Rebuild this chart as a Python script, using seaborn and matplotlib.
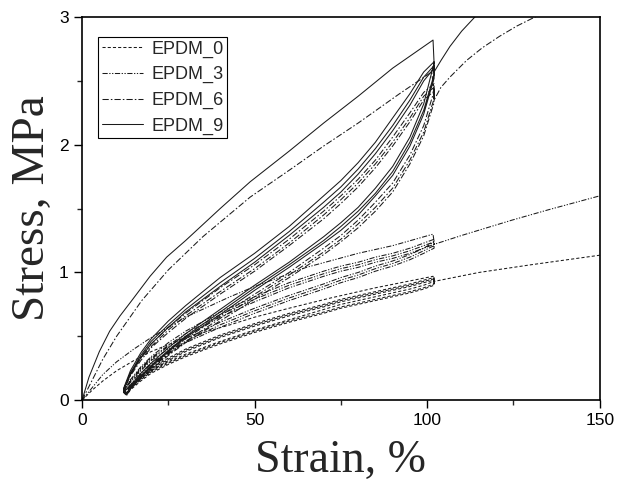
import numpy as np
import pandas as pd
import matplotlib
matplotlib.use("Agg")
import matplotlib.pyplot as plt
from matplotlib.ticker import MultipleLocator
import seaborn as sns

# ---------------- data ----------------
materials = ["EPDM_0", "EPDM_3", "EPDM_6", "EPDM_9"]

# strain grids used by the hysteresis loops (%)
grid_up = [12, 14, 17, 20, 25, 30, 40, 50, 60, 70, 75, 80, 85, 90, 95, 99, 102]
grid_down = [102, 99, 95, 90, 85, 80, 75, 70, 60, 50, 40, 30, 25, 20, 17, 14, 13]

# EPDM_0
e0_first_x = [0, 3, 6, 10, 15, 20, 30, 42.9, 50, 60, 72, 85, 101.7]
e0_first_y = [0, 0.08, 0.15, 0.23, 0.31, 0.38, 0.49, 0.59, 0.65, 0.72, 0.80, 0.88, 0.97]
e0_down1 = [0.93, 0.90, 0.87, 0.84, 0.81, 0.78, 0.75, 0.71, 0.63, 0.55, 0.46, 0.36, 0.30, 0.23, 0.17, 0.09, 0.05]
e0_up1 = [0.06, 0.12, 0.19, 0.25, 0.33, 0.40, 0.51, 0.60, 0.68, 0.75, 0.79, 0.82, 0.85, 0.88, 0.91, 0.94, 0.96]
e0_down2 = [0.91, 0.88, 0.85, 0.82, 0.79, 0.76, 0.73, 0.69, 0.62, 0.54, 0.45, 0.35, 0.29, 0.22, 0.16, 0.09, 0.05]
e0_up2 = [0.06, 0.12, 0.18, 0.24, 0.32, 0.39, 0.50, 0.59, 0.67, 0.74, 0.78, 0.81, 0.84, 0.87, 0.90, 0.93, 0.95]
e0_down3 = [0.90, 0.87, 0.84, 0.81, 0.78, 0.75, 0.72, 0.68, 0.61, 0.53, 0.44, 0.34, 0.28, 0.21, 0.15, 0.08, 0.04]
e0_up3 = [0.05, 0.11, 0.17, 0.23, 0.31, 0.38, 0.49, 0.58, 0.66, 0.73, 0.77, 0.80, 0.83, 0.86, 0.89, 0.92, 0.94]
e0_final_x = [102, 115, 130, 150]
e0_final_y = [0.93, 1.00, 1.06, 1.135]

# EPDM_3
e3_first_x = [0, 3, 6, 10, 15, 20, 30, 42.9, 50, 65, 80, 90, 101.7]
e3_first_y = [0, 0.10, 0.20, 0.30, 0.40, 0.49, 0.65, 0.81, 0.89, 1.04, 1.15, 1.21, 1.30]
e3_down1 = [1.24, 1.19, 1.14, 1.09, 1.05, 1.00, 0.96, 0.91, 0.82, 0.72, 0.61, 0.48, 0.40, 0.31, 0.23, 0.12, 0.06]
e3_up1 = [0.07, 0.16, 0.26, 0.34, 0.45, 0.54, 0.69, 0.81, 0.92, 1.01, 1.05, 1.08, 1.12, 1.15, 1.19, 1.23, 1.26]
e3_down2 = [1.21, 1.17, 1.12, 1.07, 1.03, 0.98, 0.94, 0.89, 0.80, 0.70, 0.59, 0.46, 0.38, 0.29, 0.21, 0.11, 0.05]
e3_up2 = [0.07, 0.15, 0.25, 0.33, 0.43, 0.52, 0.67, 0.79, 0.90, 0.99, 1.03, 1.06, 1.10, 1.13, 1.17, 1.21, 1.24]
e3_down3 = [1.19, 1.15, 1.10, 1.05, 1.01, 0.96, 0.92, 0.87, 0.78, 0.68, 0.57, 0.45, 0.37, 0.28, 0.20, 0.10, 0.05]
e3_up3 = [0.06, 0.14, 0.24, 0.32, 0.42, 0.50, 0.65, 0.77, 0.88, 0.97, 1.01, 1.04, 1.08, 1.11, 1.15, 1.19, 1.22]
e3_final_x = [102, 110, 124.6, 135, 150]
e3_final_y = [1.22, 1.29, 1.41, 1.49, 1.60]

# EPDM_6
e6_first_x = [0, 3, 6, 10, 17.3, 25, 35, 48.7, 60, 70, 80, 92, 101.3]
e6_first_y = [0, 0.16, 0.32, 0.50, 0.78, 1.02, 1.28, 1.59, 1.80, 1.99, 2.17, 2.40, 2.57]
e6_down1 = [2.42, 2.15, 1.92, 1.70, 1.55, 1.41, 1.29, 1.19, 1.00, 0.83, 0.66, 0.48, 0.37, 0.26, 0.19, 0.10, 0.05]
e6_up1 = [0.08, 0.21, 0.34, 0.44, 0.57, 0.68, 0.88, 1.06, 1.26, 1.48, 1.60, 1.73, 1.88, 2.06, 2.25, 2.41, 2.48]
e6_down2 = [2.36, 2.10, 1.88, 1.66, 1.51, 1.38, 1.26, 1.16, 0.98, 0.81, 0.64, 0.46, 0.36, 0.25, 0.18, 0.09, 0.05]
e6_up2 = [0.08, 0.20, 0.33, 0.42, 0.55, 0.66, 0.85, 1.03, 1.23, 1.45, 1.57, 1.70, 1.85, 2.02, 2.21, 2.38, 2.45]
e6_down3 = [2.33, 2.07, 1.85, 1.63, 1.48, 1.35, 1.24, 1.14, 0.96, 0.79, 0.62, 0.45, 0.35, 0.24, 0.17, 0.09, 0.04]
e6_up3 = [0.07, 0.19, 0.31, 0.41, 0.53, 0.64, 0.83, 1.01, 1.21, 1.42, 1.54, 1.67, 1.82, 1.99, 2.18, 2.35, 2.42]
e6_final_x = [102, 104, 106.6, 111.4, 116, 121, 126, 131.2, 135]
e6_final_y = [2.35, 2.45, 2.53, 2.66, 2.76, 2.85, 2.93, 3.00, 3.05]

# EPDM_9
e9_first_x = [0, 2, 5, 8, 11, 14.4, 19.7, 24.5, 30, 40, 48.7, 60, 70, 80, 90, 101.7]
e9_first_y = [0, 0.18, 0.38, 0.54, 0.66, 0.78, 0.97, 1.12, 1.25, 1.50, 1.71, 1.95, 2.17, 2.38, 2.60, 2.82]
e9_down1 = [2.64, 2.32, 2.06, 1.83, 1.66, 1.51, 1.39, 1.28, 1.08, 0.90, 0.71, 0.52, 0.41, 0.29, 0.21, 0.11, 0.05]
e9_up1 = [0.09, 0.23, 0.37, 0.48, 0.62, 0.74, 0.96, 1.15, 1.36, 1.60, 1.72, 1.86, 2.02, 2.21, 2.40, 2.57, 2.65]
e9_down2 = [2.55, 2.27, 2.02, 1.79, 1.62, 1.48, 1.36, 1.25, 1.06, 0.88, 0.69, 0.50, 0.39, 0.27, 0.19, 0.10, 0.05]
e9_up2 = [0.08, 0.21, 0.35, 0.46, 0.59, 0.71, 0.92, 1.11, 1.32, 1.55, 1.67, 1.81, 1.97, 2.15, 2.35, 2.53, 2.62]
e9_down3 = [2.52, 2.24, 1.99, 1.76, 1.60, 1.45, 1.33, 1.23, 1.04, 0.86, 0.67, 0.49, 0.38, 0.26, 0.18, 0.09, 0.05]
e9_up3 = [0.08, 0.20, 0.33, 0.44, 0.57, 0.69, 0.89, 1.08, 1.29, 1.51, 1.63, 1.77, 1.93, 2.11, 2.31, 2.50, 2.60]
e9_final_x = [102, 104, 106.6, 110, 113.8, 117]
e9_final_y = [2.57, 2.66, 2.77, 2.89, 3.00, 3.08]

x_ticks = [0, 50, 100, 150]
y_ticks = [0, 1, 2, 3]

# ---------------- assemble ----------------
def path(first_x, first_y, loops, final_x, final_y):
    xs = list(first_x)
    ys = list(first_y)
    for down, up in loops:
        xs += grid_down + grid_up
        ys += list(down) + list(up)
    xs += final_x
    ys += final_y
    return xs, ys

paths = {
    "EPDM_0": path(e0_first_x, e0_first_y,
                   [(e0_down1, e0_up1), (e0_down2, e0_up2), (e0_down3, e0_up3)],
                   e0_final_x, e0_final_y),
    "EPDM_3": path(e3_first_x, e3_first_y,
                   [(e3_down1, e3_up1), (e3_down2, e3_up2), (e3_down3, e3_up3)],
                   e3_final_x, e3_final_y),
    "EPDM_6": path(e6_first_x, e6_first_y,
                   [(e6_down1, e6_up1), (e6_down2, e6_up2), (e6_down3, e6_up3)],
                   e6_final_x, e6_final_y),
    "EPDM_9": path(e9_first_x, e9_first_y,
                   [(e9_down1, e9_up1), (e9_down2, e9_up2), (e9_down3, e9_up3)],
                   e9_final_x, e9_final_y),
}

styles = {
    "EPDM_0": (0, (3, 2)),
    "EPDM_3": (0, (5, 1.5, 1.2, 1.5, 1.2, 1.5)),
    "EPDM_6": (0, (6, 2, 1.5, 2)),
    "EPDM_9": "-",
}

# ---------------- plot ----------------
sns.set_style("ticks")
plt.rcParams["font.family"] = ["Liberation Sans", "DejaVu Sans"]

fig = plt.figure(figsize=(6.17, 4.88), dpi=100)
ax = fig.add_axes([0.133, 0.180, 0.839, 0.785])

for m in materials:
    xs, ys = paths[m]
    df = pd.DataFrame({"strain": xs, "stress": ys})
    sns.lineplot(data=df, x="strain", y="stress", sort=False, estimator=None,
                 ax=ax, color="#1a1a1a", linewidth=0.75,
                 linestyle=styles[m], label=m)

ax.set_xlim(0, 150)
ax.set_ylim(0, 3)
ax.set_xticks(x_ticks)
ax.set_yticks(y_ticks)
ax.xaxis.set_minor_locator(MultipleLocator(25))
ax.yaxis.set_minor_locator(MultipleLocator(0.5))
ax.tick_params(which="major", direction="out", length=6, width=1.0,
               labelsize=12.5, colors="black")
ax.tick_params(which="minor", direction="out", length=3.5, width=1.0)
for s in ax.spines.values():
    s.set_visible(True)
    s.set_linewidth(1.2)
    s.set_color("black")

ax.set_xlabel("Strain, %", fontsize=33, family=["Liberation Serif", "DejaVu Serif"],
              labelpad=8)
ax.set_ylabel("Stress, MPa", fontsize=34, family=["Liberation Serif", "DejaVu Serif"],
              labelpad=4)

leg = ax.legend(loc="upper left", bbox_to_anchor=(0.031, 0.948), borderaxespad=0,
                fontsize=13, frameon=True, fancybox=False, handlelength=2.3,
                labelspacing=0.47, borderpad=0.2, handletextpad=0.45)
leg.get_frame().set_edgecolor("black")
leg.get_frame().set_linewidth(0.8)
leg.get_frame().set_alpha(1)

fig.savefig("out.png", dpi=100)
